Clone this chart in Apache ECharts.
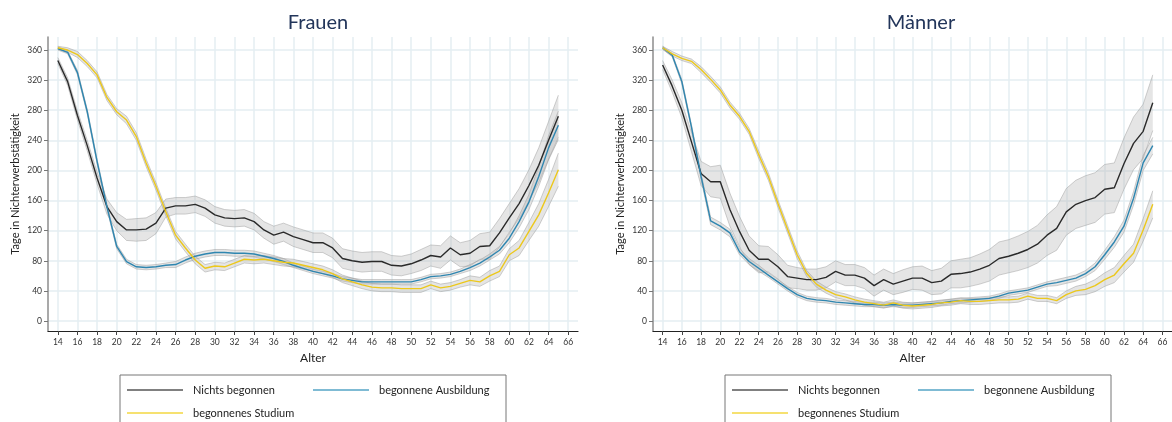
<!DOCTYPE html>
<html>
<head>
<meta charset="utf-8">
<script src="https://cdn.jsdelivr.net/npm/echarts@6/dist/echarts.min.js"></script>
<style>
  html, body { margin: 0; padding: 0; background: #ffffff; }
  #chart { width: 1172px; height: 422px; }
</style>
</head>
<body>
<div id="chart"></div>
<script>
// Age in years (x) and axis tick values
const ages = [14,15,16,17,18,19,20,21,22,23,24,25,26,27,28,29,30,31,32,33,34,35,36,37,38,39,
              40,41,42,43,44,45,46,47,48,49,50,51,52,53,54,55,56,57,58,59,60,61,62,63,64,65];
const xTicks = [14,16,18,20,22,24,26,28,30,32,34,36,38,40,42,44,46,48,50,52,54,56,58,60,62,64,66];
const yTicks = [0,40,80,120,160,200,240,280,320,360];

const groupNames = ['Nichts begonnen', 'begonnene Ausbildung', 'begonnenes Studium'];
const panelTitles = ['Frauen', 'Männer'];
const xAxisTitle = 'Alter';
const yAxisTitle = 'Tage in Nichterwerbstätigkeit';

// Frauen: mean days without employment, and half width of the confidence band
const frauenNichts = [346,318,273,233,190,152,132,121,121,122, 130,150,153,153,155,150,141,137,136,137,
                      132,121,114,118,112,108,104,104,97,83, 80,78,79,79,74,73,76,81,87,85,
                      97,88,90,99,100,117,137,156,180,207, 240,272];
const frauenNichtsCi = [4,5,6,7,8,10,12,14,15,15, 14,12,11,11,11,11,11,11,11,11,
                        11,11,12,12,13,13,13,13,13,13, 13,13,13,13,13,13,13,14,14,15,
                        16,16,17,17,18,19,19,20,21,23, 25,28];
const frauenAusbildung = [362,357,330,278,212,152,99,79,72,71, 72,74,75,81,86,89,91,91,90,90,
                          89,86,83,79,74,70,66,63,60,56, 54,52,52,52,52,52,52,55,59,60,
                          62,66,71,77,85,94,110,132,158,192, 230,260];
const frauenAusbildungCi = [2,2,3,3,3,3,3,3,3,3, 3,3,4,4,4,4,4,4,4,4,
                            4,4,4,4,3,3,3,3,3,3, 3,3,3,3,3,3,3,3,3,3,
                            3,3,4,4,4,5,6,8,10,13, 16,19];
const frauenStudium = [363,360,354,342,327,297,278,267,245,210, 179,145,114,97,81,70,73,72,77,82,
                       81,82,80,78,77,74,71,68,63,56, 52,48,45,44,44,43,43,43,48,44,
                       46,50,54,52,60,66,88,97,119,141, 170,201];
const frauenStudiumCi = [2,3,4,4,4,4,4,5,5,5, 5,5,5,5,5,5,5,5,5,5,
                         5,5,5,5,5,5,5,5,5,5, 5,5,5,5,5,5,5,5,5,5,
                         5,5,6,6,7,7,8,10,12,15, 18,22];

// Männer
const maennerNichts = [340,312,280,238,196,185,185,148,119,94, 82,82,72,59,57,55,55,58,66,61,
                       61,57,47,55,49,53,57,57,51,53, 62,63,65,69,74,83,86,90,95,102,
                       114,123,145,155,160,164,175,177,209,236, 252,290];
const maennerNichtsCi = [6,8,10,13,16,20,22,22,20,19, 18,17,16,15,14,14,14,14,14,14,
                         14,14,14,14,14,15,15,16,16,17, 18,19,19,20,21,22,22,23,24,25,
                         27,29,31,32,33,33,33,33,34,35, 36,37];
const maennerAusbildung = [363,353,318,258,192,133,126,117,92,79, 70,61,52,43,35,30,28,27,25,24,
                           23,22,22,21,22,21,21,22,23,24, 26,27,28,29,30,33,37,39,41,45,
                           49,51,54,57,63,72,88,105,126,163, 210,233];
const maennerAusbildungCi = [2,2,3,3,4,5,5,5,4,4, 4,3,3,3,3,3,3,3,3,3,
                             3,3,3,3,3,3,3,3,3,3, 3,3,3,3,3,3,3,3,3,3,
                             3,4,4,4,4,5,6,7,8,9, 10,11];
const maennerStudium = [363,355,349,345,334,321,307,287,272,252, 221,192,156,122,88,63,49,41,35,32,
                        28,25,23,21,24,21,20,21,22,24, 25,27,26,26,27,28,28,29,33,30,
                        30,27,35,40,42,47,55,61,76,90, 121,155];
const maennerStudiumCi = [2,3,3,3,4,4,4,4,4,4, 5,5,5,5,5,4,4,4,4,4,
                          4,4,4,4,4,4,4,4,4,4, 4,4,4,4,4,4,4,4,4,4,
                          4,4,5,6,7,8,9,10,11,12, 15,18];

const panels = [
  { means: [frauenNichts, frauenAusbildung, frauenStudium],
    cis: [frauenNichtsCi, frauenAusbildungCi, frauenStudiumCi] },
  { means: [maennerNichts, maennerAusbildung, maennerStudium],
    cis: [maennerNichtsCi, maennerAusbildungCi, maennerStudiumCi] }
];

const lineColors = ['#2a2a2a', '#2f86b0', '#ecc81c'];
const legendColors = ['#808080', '#7fbbd4', '#f6e170'];
const font = 'Lato, "Open Sans", sans-serif';

const gridLayout = [
  { left: 48, right: 594, top: 37, bottom: 91 },
  { left: 653, right: -11, top: 37, bottom: 91 }
];
const titleX = [313, 916];
const legendX = [120, 725];

// Confidence band drawn as one polygon (lower edge, then upper edge reversed)
function renderBand(params, api) {
  if (params.dataIndexInside !== 0) return null;
  const n = params.dataInsideLength;
  const lower = [];
  const upper = [];
  for (let j = 0; j < n; j++) {
    const x = api.value(0, j);
    lower.push(api.coord([x, api.value(1, j)]));
    upper.push(api.coord([x, api.value(2, j)]));
  }
  const edge = { fill: null, stroke: 'rgba(150,150,150,0.45)', lineWidth: 1 };
  return {
    type: 'group',
    children: [
      { type: 'polygon', shape: { points: lower.concat(upper.slice().reverse()) },
        style: { fill: 'rgba(180,180,180,0.34)', stroke: null } },
      { type: 'polyline', shape: { points: lower }, style: edge },
      { type: 'polyline', shape: { points: upper }, style: edge }
    ]
  };
}

const option = {
  animation: false,
  backgroundColor: '#ffffff',
  title: panelTitles.map((t, i) => ({
    text: t, left: titleX[i], top: 8, textAlign: 'center',
    textStyle: { fontFamily: font, fontSize: 20, fontWeight: 'normal', color: '#22355a' }
  })),
  legend: legendX.map((lx) => ({
    left: lx, top: 375, orient: 'horizontal', width: 372,
    padding: [8, 16, 20, 7], itemGap: 9, itemWidth: 56, itemHeight: 2, icon: 'rect',
    borderColor: '#777777', borderWidth: 1, selectedMode: false,
    textStyle: { fontFamily: font, fontSize: 11, color: '#222222', width: 111, lineHeight: 14, padding: [0, 0, 0, 5] },
    data: groupNames.map((n, k) => ({ name: n, itemStyle: { color: legendColors[k] } }))
  })),
  grid: gridLayout,
  xAxis: gridLayout.map((g, i) => ({
    type: 'value', gridIndex: i, min: 13, max: 67,
    name: xAxisTitle, nameLocation: 'middle', nameGap: 19,
    nameTextStyle: { fontFamily: font, fontSize: 12, color: '#222222' },
    axisLine: { show: true, onZero: false, lineStyle: { color: '#222222', width: 1.2 } },
    axisTick: { show: true, length: 4, customValues: xTicks, lineStyle: { color: '#444444' } },
    axisLabel: { customValues: xTicks, margin: 7, fontFamily: font, fontSize: 8.5, color: '#333333' },
    splitLine: { show: true, lineStyle: { color: '#e4eef2', width: 1.5 } }
  })),
  yAxis: gridLayout.map((g, i) => ({
    type: 'value', gridIndex: i, min: -13.3, max: 377.3,
    name: yAxisTitle, nameLocation: 'middle', nameGap: 27, nameRotate: 90,
    nameTextStyle: { fontFamily: font, fontSize: 11, color: '#222222' },
    axisLine: { show: true, onZero: false, lineStyle: { color: '#8c8c8c', width: 1.5 } },
    axisTick: { show: true, length: 4, customValues: yTicks, lineStyle: { color: '#777777' } },
    axisLabel: { customValues: yTicks, margin: 6, fontFamily: font, fontSize: 8.5, color: '#333333' },
    splitLine: { show: true, lineStyle: { color: '#e4eef2', width: 1.5 } }
  })),
  series: []
};

panels.forEach((p, i) => {
  groupNames.forEach((name, k) => {
    const mean = p.means[k];
    const ci = p.cis[k];
    option.series.push({
      name: name + ' (KI)', type: 'custom', xAxisIndex: i, yAxisIndex: i,
      silent: true, z: 1, renderItem: renderBand,
      encode: { x: 0, y: [1, 2] },
      data: ages.map((a, j) => [a, mean[j] - ci[j], mean[j] + ci[j]])
    });
  });
  groupNames.forEach((name, k) => {
    option.series.push({
      name: name, type: 'line', xAxisIndex: i, yAxisIndex: i,
      symbol: 'none', z: 3, color: lineColors[k],
      lineStyle: { color: lineColors[k], width: 1.4 },
      data: ages.map((a, j) => [a, p.means[k][j]])
    });
  });
});

const chart = echarts.init(document.getElementById('chart'), null, { renderer: 'canvas' });
chart.setOption(option);
</script>
</body>
</html>
